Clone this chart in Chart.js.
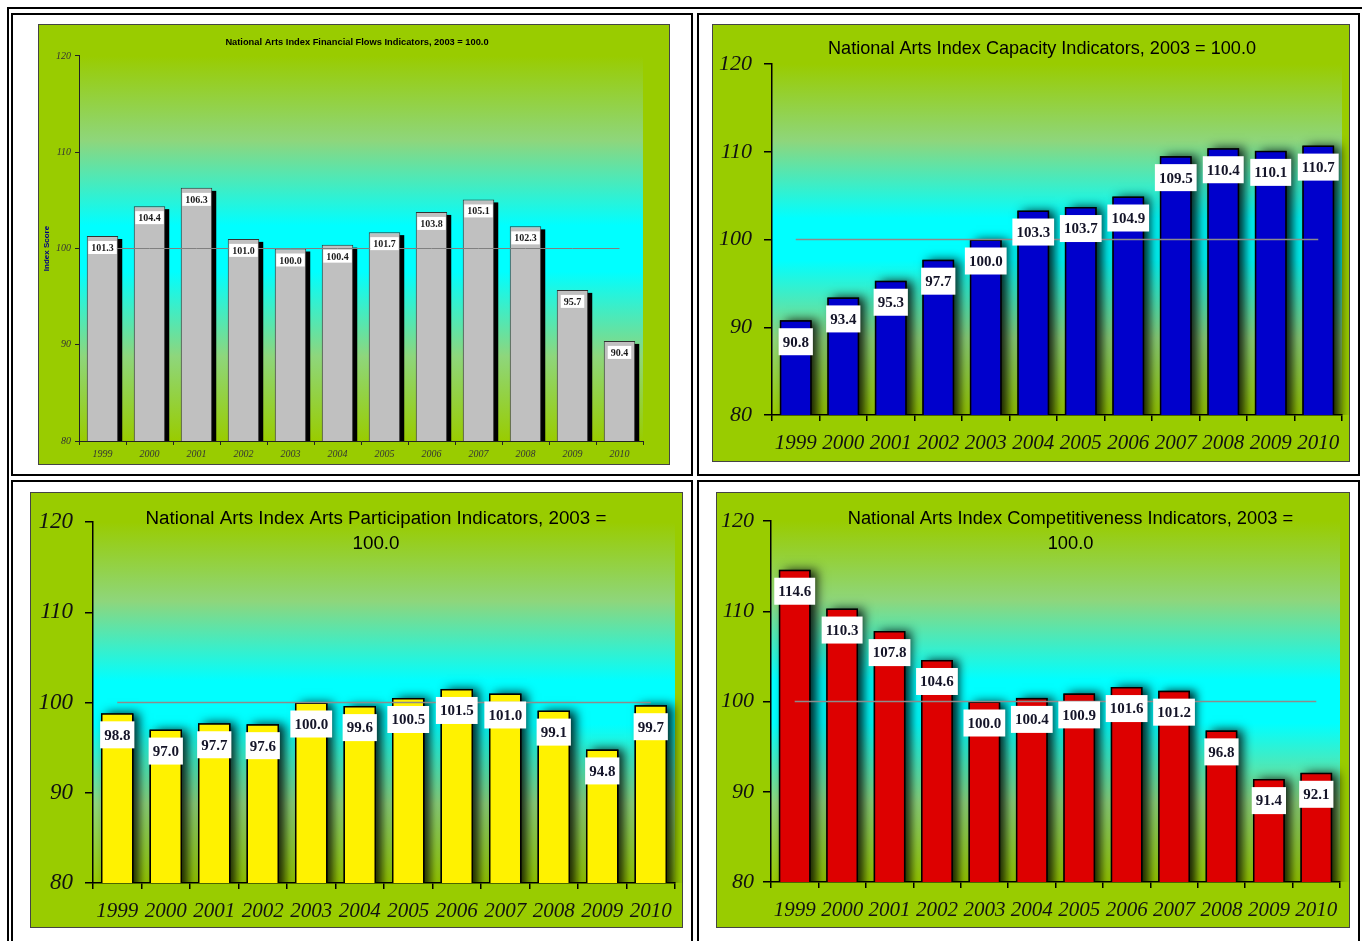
<!DOCTYPE html>
<html><head><meta charset="utf-8">
<script src="https://cdn.jsdelivr.net/npm/chart.js@4.4.1/dist/chart.umd.min.js"></script>
<style>
html,body{margin:0;padding:0;background:#fff;width:1362px;height:941px;overflow:hidden;position:relative}
.frame{position:absolute;border:2px solid #000;box-sizing:border-box;z-index:2}
canvas{position:absolute;z-index:1}
</style></head><body>
<div class="frame" style="left:7px;top:7px;width:1362px;height:950px"></div>
<div class="frame" style="left:11px;top:13px;width:682px;height:463px"></div>
<div class="frame" style="left:697px;top:13px;width:663px;height:463px"></div>
<div class="frame" style="left:11px;top:480px;width:682px;height:470px"></div>
<div class="frame" style="left:697px;top:480px;width:663px;height:470px"></div>
<canvas id="c1" width="632" height="441" style="left:38px;top:24px"></canvas>
<canvas id="c2" width="638" height="438" style="left:712px;top:24px"></canvas>
<canvas id="c3" width="653" height="436" style="left:30px;top:492px"></canvas>
<canvas id="c4" width="634" height="436" style="left:716px;top:492px"></canvas>
<script>
// ---- data ----
const years = ['1999','2000','2001','2002','2003','2004','2005','2006','2007','2008','2009','2010'];
const financialFlows = [101.3,104.4,106.3,101.0,100.0,100.4,101.7,103.8,105.1,102.3,95.7,90.4];
const capacity = [90.8,93.4,95.3,97.7,100.0,103.3,103.7,104.9,109.5,110.4,110.1,110.7];
const artsParticipation = [98.8,97.0,97.7,97.6,100.0,99.6,100.5,101.5,101.0,99.1,94.8,99.7];
const competitiveness = [114.6,110.3,107.8,104.6,100.0,100.4,100.9,101.6,101.2,96.8,91.4,92.1];
const reference2003 = [100,100,100,100,100,100,100,100,100,100,100,100];
const yMin = 80, yMax = 120, yStep = 10;
const titleFinancial = 'National Arts Index Financial Flows Indicators, 2003 = 100.0';
const titleCapacity = 'National Arts Index Capacity Indicators, 2003 = 100.0';
const titleParticipation = ['National Arts Index Arts Participation Indicators, 2003 =', '100.0'];
const titleCompetitiveness = ['National Arts Index Competitiveness Indicators, 2003 =', '100.0'];
const yAxisTitle = 'Index Score';

// ---- plugins ----
const panelBg = {
  id: 'panelBg',
  beforeDraw(chart) {
    const {ctx, width, height, chartArea: a} = chart;
    ctx.save();
    ctx.fillStyle = '#99cc00';
    ctx.fillRect(0, 0, width, height);
    const g = ctx.createLinearGradient(0, a.top, 0, a.bottom);
    g.addColorStop(0, '#99cc00');
    g.addColorStop(0.22, '#8ed67c');
    g.addColorStop(0.44, '#00ffff');
    g.addColorStop(0.56, '#00ffff');
    g.addColorStop(0.78, '#8ed67c');
    g.addColorStop(1, '#99cc00');
    ctx.fillStyle = g;
    ctx.fillRect(a.left, a.top, a.right - a.left, a.bottom - a.top);
    ctx.strokeStyle = '#444';
    ctx.lineWidth = 1;
    ctx.strokeRect(0.5, 0.5, width - 1, height - 1);
    ctx.restore();
  }
};
const barShadow = {
  id: 'barShadow',
  beforeDatasetDraw(chart, args, o) {
    if (chart.data.datasets[args.index].type !== 'bar') return;
    const ctx = chart.ctx, a = chart.chartArea;
    ctx.save();
    ctx.beginPath();
    ctx.rect(a.left, a.top - 5, a.right - a.left + 20, a.bottom - a.top + 5);
    ctx.clip();
    args.meta.data.forEach(bar => {
      const p = bar.getProps(['x', 'y', 'base', 'width'], true);
      const left = p.x - p.width / 2;
      if (o.blur) {
        ctx.shadowColor = o.color; ctx.shadowBlur = o.blur;
        ctx.shadowOffsetX = o.dx; ctx.shadowOffsetY = o.dy;
        ctx.fillStyle = '#000';
        ctx.fillRect(left, p.y, p.width, p.base - p.y);
      } else {
        ctx.fillStyle = o.color;
        ctx.fillRect(left + o.dx, p.y + o.dy, p.width, p.base - p.y - o.dy);
      }
    });
    ctx.restore();
  }
};
const barLabels = {
  id: 'barLabels',
  afterDatasetsDraw(chart, args, o) {
    const meta = chart.getDatasetMeta(0);
    const vals = chart.data.datasets[0].data;
    const ctx = chart.ctx;
    ctx.save();
    ctx.font = o.font;
    ctx.textAlign = 'center';
    ctx.textBaseline = 'middle';
    meta.data.forEach((bar, i) => {
      const txt = vals[i].toFixed(1);
      const w = ctx.measureText(txt).width + o.padX * 2;
      const x = bar.x - w / 2, y = bar.y + o.offsetY;
      ctx.fillStyle = '#fff';
      ctx.fillRect(x, y, w, o.boxH);
      ctx.fillStyle = o.color;
      ctx.fillText(txt, bar.x, y + o.boxH / 2 + 1);
    });
    ctx.restore();
  }
};

function makeChart(id, values, title, s) {
  const lines = Array.isArray(title) ? title.length : 1;
  const tlh = s.titleSize * s.titleLH;
  const padTop = s.titleY - tlh / 2;
  const padBottom = s.plotTop - padTop - lines * tlh;
  // title centre = (W - pr) / 2 with left padding 0
  const pr = s.W - 2 * s.titleX;
  const yScale = {
    min: yMin, max: yMax,
    ticks: {stepSize: yStep, font: s.yFont, color: s.tickColor, padding: s.yPad},
    grid: {drawOnChartArea: false, drawTicks: true, tickLength: s.yTick, color: s.axisColor, lineWidth: s.axisWidth},
    border: {display: true, color: s.axisColor, width: s.axisWidth},
    afterFit(sc) { sc.width = s.plotLeft; }
  };
  if (s.yTitle) {
    yScale.title = {display: true, text: yAxisTitle, color: '#000080',
      font: {family: 'Arial, "Liberation Sans", sans-serif', size: 8, weight: 'bold', lineHeight: 1.2},
      padding: {top: s.yTitleX - 4.8, bottom: 0}};
  }
  return new Chart(document.getElementById(id), {
    type: 'bar',
    data: {
      labels: years,
      datasets: [
        {type: 'bar', data: values, backgroundColor: s.barColor, borderColor: s.barBorder,
         borderWidth: s.barBorderWidth, borderSkipped: false, barPercentage: 0.67, categoryPercentage: 1.0, order: 1},
        {type: 'line', data: reference2003, borderColor: s.refColor, borderWidth: s.refWidth,
         pointRadius: 0, fill: false, order: 0}
      ]
    },
    options: {
      responsive: false, animation: false, events: [],
      layout: {padding: {left: 0, right: pr, top: 0, bottom: 0}},
      plugins: {
        legend: {display: false}, tooltip: {enabled: false},
        title: {display: true, text: title, color: '#000',
          font: {family: s.titleFamily, size: s.titleSize, weight: s.titleWeight, lineHeight: s.titleLH},
          padding: {top: padTop, bottom: padBottom}},
        barShadow: s.shadow,
        barLabels: s.labels
      },
      scales: {
        x: {
          grid: {display: true, drawOnChartArea: false, drawTicks: true, tickLength: s.xTick, color: s.axisColor, lineWidth: s.axisWidth, offset: true},
          border: {display: true, color: s.axisColor, width: s.axisWidth},
          ticks: {font: s.xFont, color: s.tickColor, padding: s.xPad, maxRotation: 0, autoSkip: false},
          afterFit(sc) { sc.height = s.H - s.plotBottom; }
        },
        y: yScale,
        yr: {position: 'right', display: true, grid: {display: false}, ticks: {display: false},
             border: {display: false}, afterFit(sc) { sc.width = s.W - pr - s.plotRight; }}
      }
    },
    plugins: [panelBg, barShadow, barLabels]
  });
}

const sans = '"Liberation Sans", Arial, sans-serif';
const serif = '"Liberation Serif", "Times New Roman", serif';
const bigStyle = {
  titleFamily: sans, titleSize: 18.3, titleWeight: 'normal', titleLH: 1.37,
  tickColor: '#111', axisColor: '#000', axisWidth: 1.5,
  yFont: {family: serif, size: 22, style: 'italic'}, xFont: {family: serif, size: 21, style: 'italic'},
  yTick: 8, yPad: 12, xTick: 6, xPad: 10,
  barBorder: '#000', barBorderWidth: 1.5,
  refColor: '#8c8c8c', refWidth: 1.5,
  shadow: {color: 'rgba(0,0,0,0.85)', blur: 10, dx: 6, dy: 0},
  labels: {font: 'bold 15px "Liberation Serif", serif', color: '#141428', padX: 4, boxH: 27, offsetY: 8}
};

makeChart('c1', financialFlows, titleFinancial, {
  W: 632, H: 441, plotLeft: 41, plotRight: 605, plotTop: 32, plotBottom: 417, titleX: 319,
  titleFamily: sans, titleSize: 9.3, titleWeight: 'bold', titleLH: 1.2, titleY: 18,
  tickColor: '#333', axisColor: '#222', axisWidth: 1,
  yFont: {family: serif, size: 10, style: 'italic'}, xFont: {family: serif, size: 10, style: 'italic'},
  yTick: 4, yPad: 4, xTick: 4, xPad: 3,
  yTitle: true, yTitleX: 9,
  barColor: '#c0c0c0', barBorder: '#333', barBorderWidth: 1,
  refColor: '#808080', refWidth: 1,
  shadow: {color: '#000', blur: 0, dx: 4, dy: 3},
  labels: {font: 'bold 10px "Liberation Serif", serif', color: '#1a1a1a', padX: 3, boxH: 13, offsetY: 5}
});
makeChart('c2', capacity, titleCapacity, Object.assign({}, bigStyle, {
  W: 638, H: 438, plotLeft: 60, plotRight: 630, plotTop: 40, plotBottom: 391, titleX: 330,
  titleY: 25, titleSize: 18.1, barColor: '#0000cc'
}));
makeChart('c3', artsParticipation, titleParticipation, Object.assign({}, bigStyle, {
  W: 653, H: 436, plotLeft: 63, plotRight: 645, plotTop: 30, plotBottom: 391, titleX: 346,
  titleY: 27, titleSize: 18.8, titleLH: 1.33, barColor: '#fff200', yFont: {family: serif, size: 23, style: 'italic'}
}));
makeChart('c4', competitiveness, titleCompetitiveness, Object.assign({}, bigStyle, {
  W: 634, H: 436, plotLeft: 55, plotRight: 624, plotTop: 29, plotBottom: 390, titleX: 354.5,
  titleY: 27, barColor: '#dd0000', yPad: 9
}));
</script>
</body></html>
